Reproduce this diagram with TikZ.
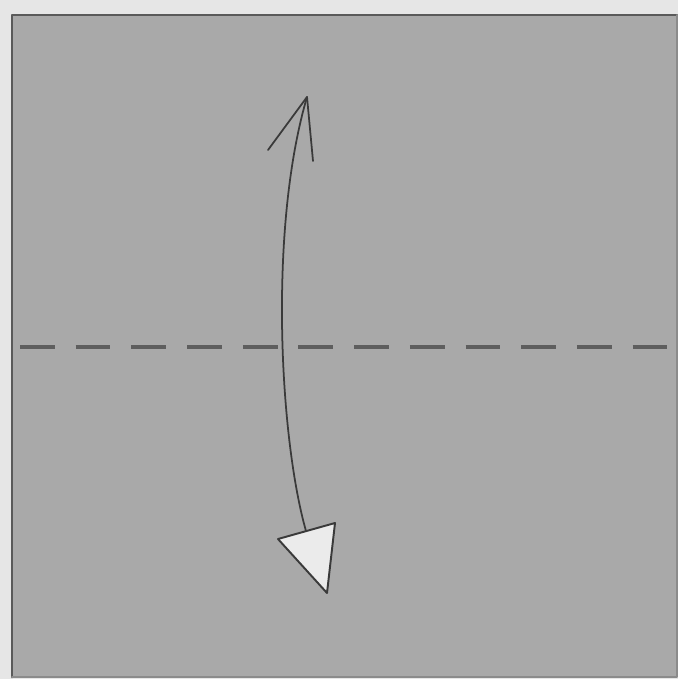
\documentclass[tikz,border=0pt]{standalone}
\usepackage{tikz}
\usetikzlibrary{calc}
\definecolor{papergray}{HTML}{E6E6E6}
\definecolor{sheetgray}{HTML}{A9A9A9}
\definecolor{edgegray}{HTML}{5A5A5A}
\definecolor{foldgray}{HTML}{5E5E5E}
\definecolor{inkgray}{HTML}{3A3A3A}

\begin{document}
\begin{tikzpicture}[x=0.02cm,y=-0.02cm,line join=round,line cap=round]

  % =====================================================================
  % 1. PAPER & SHEET
  % =====================================================================

  % page background
  \fill[papergray] (0,0) rectangle (678,679);
  \useasboundingbox (0,0) rectangle (678,679);

  % square sheet
  \fill[sheetgray] (12,15) rectangle (677,677);
  \draw[edgegray,line width=1.6pt] (12,677) -- (12,15) -- (677,15);
  \draw[edgegray!70,line width=1pt] (677,15) -- (677,677) -- (12,677);

  % valley fold line
  \coordinate (foldL) at (20,347);
  \coordinate (foldR) at (672,347);
  \draw[foldgray,line width=1.8pt,line cap=butt,dash pattern=on 19.8pt off 11.9pt] (foldL) -- (foldR);

  % =====================================================================
  % 2. FOLD ARROW
  % =====================================================================

  \coordinate (tipT) at (307,97);
  \coordinate (baseB) at (306,531);
  \coordinate (tipB) at (327,593);

  % curved shaft
  \draw[inkgray,line width=1pt] (tipT) .. controls (268,230) and (280,440) .. (baseB);

  % open head at top
  \draw[inkgray,line width=1pt] (268,150) -- (tipT) -- (313,161);

  % hollow head at bottom
  \draw[inkgray,fill=white!92!black,line width=1.1pt] (278,539) -- (335,523) -- (tipB) -- cycle;

\end{tikzpicture}
\end{document}
